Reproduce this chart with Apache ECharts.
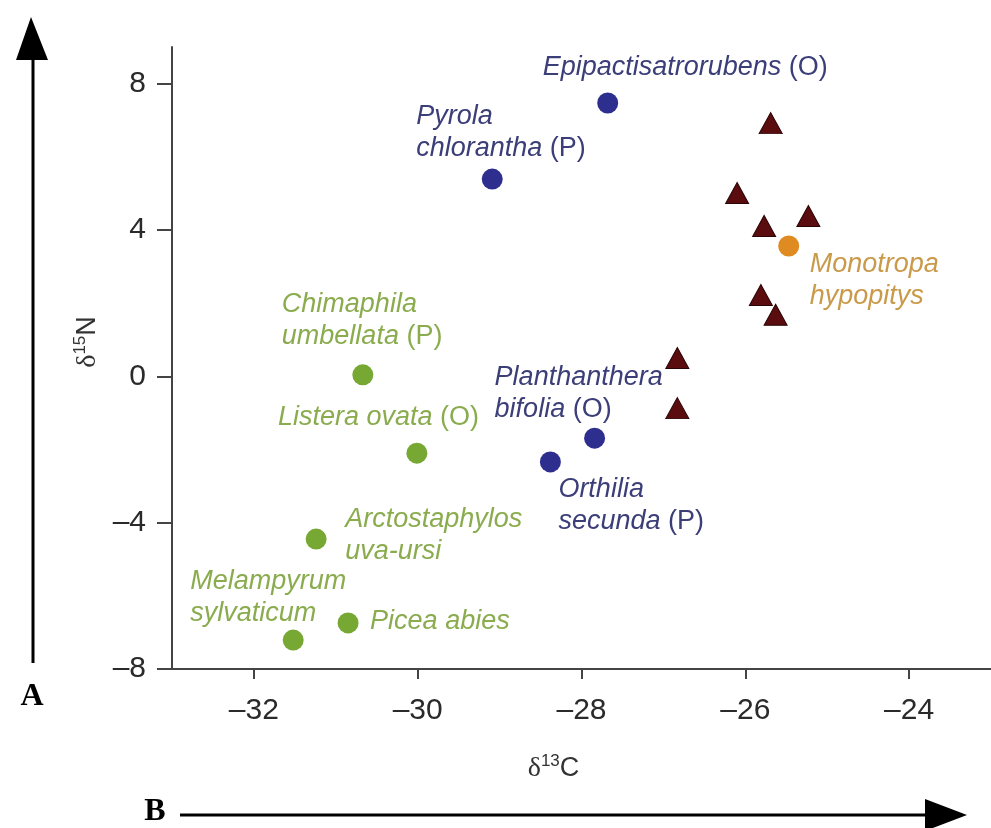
<!DOCTYPE html>
<html>
<head>
<meta charset="utf-8">
<script src="https://cdn.jsdelivr.net/npm/echarts@6/dist/echarts.min.js"></script>
<style>html,body{margin:0;padding:0;background:#fff}#c{width:991px;height:828px}</style>
</head>
<body>
<div id="c"></div>
<script>
// ---- data ----
const xTicks = [-32, -30, -28, -26, -24];
const yTicks = [-8, -4, 0, 4, 8];

const blueNames = ['Epipactisatrorubens', 'Pyrola\nchlorantha', 'Planthanthera\nbifolia', 'Orthilia\nsecunda'];
const blueTags  = ['(O)', '(P)', '(O)', '(P)'];
const blueX = [-27.68, -29.09, -27.84, -28.38];
const blueY = [7.47, 5.39, -1.69, -2.34];

const greenNames = ['Chimaphila\numbellata', 'Listera ovata', 'Arctostaphylos\nuva-ursi', 'Picea abies', 'Melampyrum\nsylvaticum'];
const greenTags  = ['(P)', '(O)', '', '', ''];
const greenX = [-30.67, -30.01, -31.24, -30.85, -31.52];
const greenY = [0.04, -2.10, -4.45, -6.74, -7.21];

const orangeNames = ['Monotropa\nhypopitys'];
const orangeTags  = [''];
const orangeX = [-25.47];
const orangeY = [3.56];

const triX = [-25.69, -26.10, -25.77, -25.23, -25.81, -25.63, -26.83, -26.83];
const triY = [6.92, 5.01, 4.11, 4.38, 2.22, 1.68, 0.50, -0.87];

// ---- label layout (pixel offsets from point centre) ----
const labelOffsets = {
  'Epipactisatrorubens': [-65, -35],
  'Pyrola\nchlorantha': [-76, -47],
  'Planthanthera\nbifolia': [-100, -45],
  'Orthilia\nsecunda': [8, 44],
  'Chimaphila\numbellata': [-81, -54],
  'Listera ovata': [-139, -36],
  'Arctostaphylos\nuva-ursi': [29, -4],
  'Picea abies': [22, -1],
  'Melampyrum\nsylvaticum': [-103, -43],
  'Monotropa\nhypopitys': [21, 34]
};

const FONT = '"Liberation Sans", Arial, Helvetica, sans-serif';

function richText(name, tag) {
  const lines = name.split('\n');
  return lines.map((l, i) => {
    let s = '{i|' + l + '}';
    if (i === lines.length - 1 && tag) s += '{n| ' + tag + '}';
    return s;
  }).join('\n');
}

function makeItems(names, tags, xs, ys, color) {
  return names.map((n, k) => ({
    value: [xs[k], ys[k]],
    label: {
      show: true,
      position: 'inside',
      align: 'left',
      verticalAlign: 'middle',
      offset: labelOffsets[n],
      formatter: richText(n, tags[k]),
      lineHeight: 32,
      rich: {
        i: { fontFamily: FONT, fontStyle: 'italic', fontSize: 27, color: color, lineHeight: 32 },
        n: { fontFamily: FONT, fontSize: 27, color: color, lineHeight: 32 }
      }
    }
  }));
}

const chart = echarts.init(document.getElementById('c'), null, { renderer: 'canvas' });

const axisCommon = {
  axisLine: { show: true, onZero: false, lineStyle: { color: '#444', width: 2 } },
  splitLine: { show: false },
};

chart.setOption({
  animation: false,
  backgroundColor: '#fff',
  grid: { left: 172, right: 0, top: 47, bottom: 159, containLabel: false },
  xAxis: Object.assign({}, axisCommon, {
    type: 'value', min: -33, max: -23,
    axisTick: { show: true, customValues: xTicks, length: 10, inside: false, lineStyle: { color: '#444', width: 2 } },
    axisLabel: { customValues: xTicks, fontFamily: FONT, fontSize: 30, color: '#2a2a2a', margin: 27,
      formatter: v => (v < 0 ? '\u2013' + Math.abs(v) : String(v)) },
    name: '{d|\u03b4}{s|13}{c|C}',
    nameLocation: 'middle', nameGap: 84,
    nameTextStyle: { padding: [0, 56, 0, 0],
      rich: {
        d: { fontFamily: '"Liberation Serif", "Times New Roman", serif', fontSize: 28, color: '#333' },
        s: { fontFamily: FONT, fontSize: 17, color: '#333', padding: [0, 0, 14, 0] },
        c: { fontFamily: FONT, fontSize: 27, color: '#333' }
      } }
  }),
  yAxis: Object.assign({}, axisCommon, {
    type: 'value', min: -8, max: 9,
    axisTick: { show: true, customValues: yTicks, length: 15, inside: false, lineStyle: { color: '#444', width: 2 } },
    axisLabel: { customValues: yTicks, fontFamily: FONT, fontSize: 30, color: '#2a2a2a', margin: 26,
      formatter: v => (v < 0 ? '\u2013' + Math.abs(v) : String(v)) },
    name: '{d|\u03b4}{s|15}{c|N}',
    nameLocation: 'middle', nameGap: 62, nameRotate: 90,
    nameTextStyle: { padding: [0, 0, 0, 32],
      rich: {
        d: { fontFamily: '"Liberation Serif", "Times New Roman", serif', fontSize: 28, color: '#333' },
        s: { fontFamily: FONT, fontSize: 17, color: '#333', padding: [0, 0, 14, 0] },
        c: { fontFamily: FONT, fontSize: 27, color: '#333' }
      } }
  }),
  series: [
    {
      name: 'blue', type: 'scatter', symbol: 'circle', symbolSize: 21,
      itemStyle: { color: '#2d2e8e', opacity: 1 },
      data: makeItems(blueNames, blueTags, blueX, blueY, '#3b3e78')
    },
    {
      name: 'green', type: 'scatter', symbol: 'circle', symbolSize: 21,
      itemStyle: { color: '#77a834', opacity: 1 },
      data: makeItems(greenNames, greenTags, greenX, greenY, '#8aac4e')
    },
    {
      name: 'orange', type: 'scatter', symbol: 'circle', symbolSize: 21,
      itemStyle: { color: '#e08a22', opacity: 1 },
      data: makeItems(orangeNames, orangeTags, orangeX, orangeY, '#c99a4a')
    },
    {
      name: 'tri', type: 'scatter', symbol: 'triangle', symbolSize: [23, 21],
      itemStyle: { color: '#5a0c0f', borderColor: '#2a0506', borderWidth: 1, opacity: 1 },
      data: triX.map((x, k) => [x, triY[k]])
    }
  ],
  graphic: [
    { type: 'line', shape: { x1: 33, y1: 58, x2: 33, y2: 663 }, style: { stroke: '#000', lineWidth: 3 } },
    { type: 'polygon', shape: { points: [[31, 17], [16, 60], [48, 60]] }, style: { fill: '#000' } },
    { type: 'text', x: 32, y: 697, style: { text: 'A', font: 'bold 32px "Liberation Serif", "Times New Roman", serif', fill: '#000', align: 'center', verticalAlign: 'middle' } },
    { type: 'line', shape: { x1: 180, y1: 815, x2: 930, y2: 815 }, style: { stroke: '#000', lineWidth: 3 } },
    { type: 'polygon', shape: { points: [[925, 799], [925, 831], [967, 815]] }, style: { fill: '#000' } },
    { type: 'text', x: 155, y: 812, style: { text: 'B', font: 'bold 32px "Liberation Serif", "Times New Roman", serif', fill: '#000', align: 'center', verticalAlign: 'middle' } }
  ]
});
</script>
</body>
</html>
